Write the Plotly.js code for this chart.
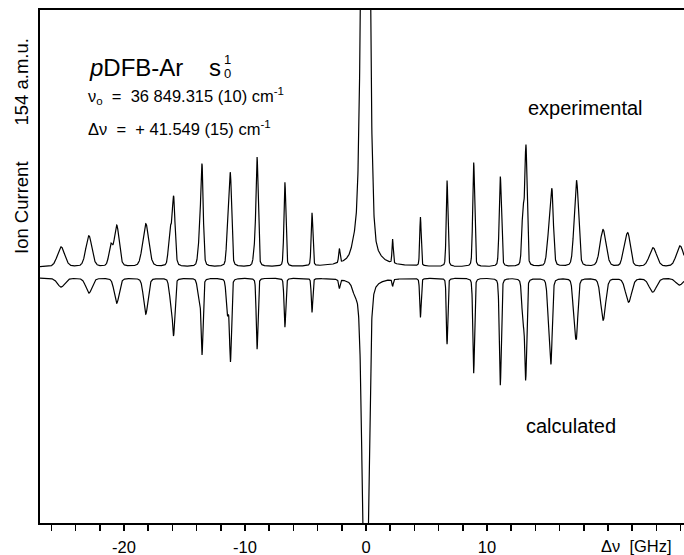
<!DOCTYPE html>
<html>
<head>
<meta charset="utf-8">
<script src="https://cdn.plot.ly/plotly-3.0.1.min.js"></script>
<style>html,body{margin:0;padding:0;background:#fff;}#chart{width:684px;height:555px;}</style>
</head>
<body>
<div id="chart"></div>
<script>
// ---- Data (Δν in GHz, intensity in arbitrary units) ----
// Experimental spectrum: line centres, peak heights, line widths (sigma, GHz)
const expPos    = [-25.2,-22.9,-21.1,-20.6,-18.2,-16.2,-15.9,-13.75,-13.55,-11.4,-11.2,-9.2,-9.0,-6.7,-4.46,-2.2,-0.9,-0.05,2.2,4.5,6.7,8.9,11.1,12.98,13.22,15.12,15.37,17.27,17.44,19.59,21.32,21.65,23.72,25.95];
const expHeight = [20,31,20,41,43,35,68,25,96,50,85,15,107,84,53,14,12,800,24,49,86,104,90,55,117,32,69,35,65,37,14,32,19,21];
const expWidth  = [0.3,0.25,0.15,0.2,0.25,0.12,0.12,0.12,0.1,0.1,0.1,0.1,0.09,0.08,0.07,0.06,0.25,0.27,0.05,0.06,0.07,0.08,0.09,0.1,0.09,0.15,0.12,0.15,0.15,0.25,0.15,0.2,0.3,0.3];
// Calculated spectrum (drawn inverted below the experimental one)
const calcPos   = [-25.2,-22.9,-20.6,-18.2,-16.15,-15.9,-13.8,-13.55,-11.45,-11.2,-9.0,-6.7,-4.46,-2.2,-0.9,-0.05,2.2,4.5,6.7,8.9,11.1,12.98,13.2,15.12,15.3,17.2,17.4,19.6,21.7,23.7,25.9];
const calcDepth = [9,15,25,36,19,55,19,74,35,81,71,49,34,9,10,400,7,39,66,95,107,42,97,40,71,32,51,42,24,14,7];
const calcWidth = [0.3,0.25,0.2,0.18,0.12,0.1,0.12,0.08,0.1,0.08,0.07,0.07,0.06,0.06,0.2,0.23,0.05,0.06,0.06,0.07,0.08,0.1,0.08,0.12,0.1,0.12,0.12,0.2,0.25,0.3,0.3];
// Axis ticks: labelled ticks, plus unlabelled ticks every tickStep
const tickVals = [-20,-10,0,10];
const tickText = ["-20","-10","0","10"];
const tickStep = 2;

// ---- Build line profiles from the line lists ----
const X0 = -26.94, X1 = 26.28;
const calcOffset = -11;   // vertical offset of the calculated trace
function profile(pos, amp, wid, xs) {
  return xs.map(x => {
    let s = 0;
    for (let i = 0; i < pos.length; i++) {
      const d = x - pos[i], w = wid[i], g = w * 1.177;
      s += amp[i] * (0.75 * Math.exp(-d * d / (2 * w * w)) + 0.25 / (1 + (d / g) * (d / g)));
    }
    return s;
  });
}
const xs = [];
for (let k = 0; X0 + k * 0.01 <= X1; k++) xs.push(+(X0 + k * 0.01).toFixed(3));
const yExp = profile(expPos, expHeight, expWidth, xs);
const yCalc = profile(calcPos, calcDepth, calcWidth, xs).map(v => calcOffset - v);

const traces = [
  {x: xs, y: yExp, type: 'scatter', mode: 'lines', line: {color: '#000', width: 1.2}, hoverinfo: 'skip'},
  {x: xs, y: yCalc, type: 'scatter', mode: 'lines', line: {color: '#000', width: 1.2}, hoverinfo: 'skip'}
];

// pixel -> paper helpers (plot area: x 40..684, y 10..523)
const px = p => (p - 40) / 644;
const py = p => (523 - p) / 513;
const F = 'Liberation Sans, Arial, sans-serif';
const nb = '\u00A0';

const ann = (x, y, text, size, xa, extra) => Object.assign({
  xref: 'paper', yref: 'paper', x: px(x), y: py(y), text: text, showarrow: false,
  xanchor: xa, yanchor: 'middle', font: {family: F, size: size, color: '#000'}
}, extra || {});

const layout = {
  width: 684, height: 555,
  margin: {l: 40, r: 0, t: 10, b: 32, pad: 0},
  paper_bgcolor: '#fff', plot_bgcolor: '#fff',
  showlegend: false,
  xaxis: {
    range: [X0, X1], showline: true, linewidth: 2, linecolor: '#000', mirror: true,
    ticks: 'outside', ticklen: 6, tickwidth: 1.5, tickcolor: '#000',
    tickmode: 'array', tickvals: tickVals, ticktext: tickText,
    minor: {dtick: tickStep, tick0: 0, ticks: 'outside', ticklen: 6, tickwidth: 1.5, tickcolor: '#000', showgrid: false},
    tickfont: {family: F, size: 16.5, color: '#000'}, ticklabelstandoff: 2,
    showgrid: false, zeroline: false, automargin: false
  },
  yaxis: {
    range: [-256, 257], showline: true, linewidth: 2, linecolor: '#000',
    ticks: '', showticklabels: false, showgrid: false, zeroline: false, automargin: false
  },
  annotations: [
    ann(87, 67, '<i>p</i>DFB-Ar', 24, 'left'),
    ann(207, 67, 's', 24, 'left'),
    ann(222, 59, '1', 13, 'left'),
    ann(222, 73, '0', 13, 'left'),
    ann(86, 96, 'ν<sub>o</sub>' + nb + nb + '=' + nb + nb + '36' + nb + '849.315 (10) cm<sup>-1</sup>', 16.5, 'left'),
    ann(86, 128, 'Δν' + nb + nb + '=' + nb + nb + '+' + nb + '41.549 (15) cm<sup>-1</sup>', 16.5, 'left'),
    ann(585, 108, 'experimental', 20, 'center'),
    ann(571, 426, 'calculated', 20, 'center'),
    ann(636, 546, 'Δν' + nb + nb + '[GHz]', 16.5, 'center'),
    ann(21, 146, 'Ion Current' + nb.repeat(7) + '154 a.m.u.', 18.5, 'center', {textangle: -90})
  ]
};

Plotly.newPlot('chart', traces, layout, {staticPlot: true, displayModeBar: false});
</script>
</body>
</html>
